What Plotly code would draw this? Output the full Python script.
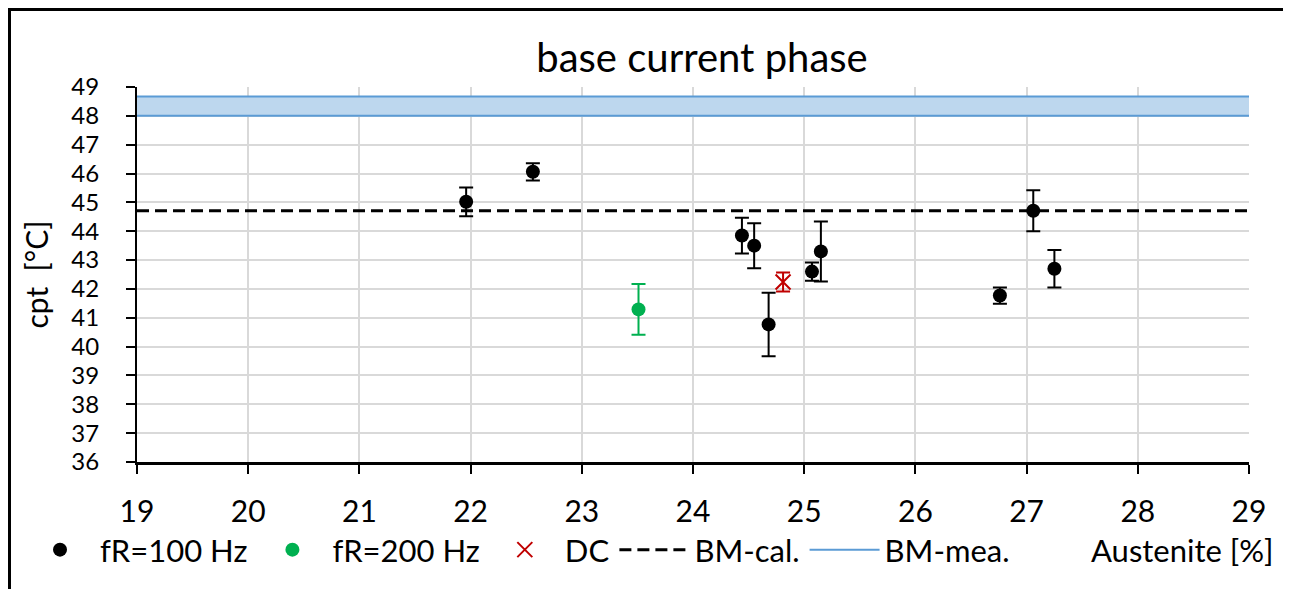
import plotly.graph_objects as go

# ---- data ----
x100 = [21.96, 22.56, 24.44, 24.55, 24.68, 25.07, 25.15, 26.76, 27.06, 27.25]
y100 = [45.02, 46.06, 43.85, 43.50, 40.77, 42.60, 43.30, 41.77, 44.71, 42.70]
e100 = [0.50, 0.30, 0.62, 0.78, 1.10, 0.32, 1.04, 0.28, 0.71, 0.65]

x200 = [23.51]
y200 = [41.29]
e200 = [0.88]

xdc = [24.81]
ydc = [42.24]
edc = [0.33]

x_ref = [19, 29]
bm_cal = [44.71, 44.71]
bm_mea_low = [48.0, 48.0]
bm_mea_high = [48.67, 48.67]

x_ticks = list(range(19, 30))
y_ticks = list(range(36, 50))

# page has an 8px body margin; figure coords = reference coords - 8
W, H = 1283, 581
PL, PR, PT, PB = 129, 1241, 79, 454
ML, MR, MT, MB = PL, W - PR, PT, H - PB
FONT = "Lato"
pw = PR - PL
ph = PB - PT


def px(x):
    return (x - PL) / pw


def py(y):
    return (PB - y) / ph


fig = go.Figure()

fig.add_trace(go.Scatter(
    x=x100, y=y100, mode="markers", name="fR=100 Hz",
    marker=dict(color="black", size=14),
    error_y=dict(type="data", array=e100, color="black", thickness=2, width=7)))
fig.add_trace(go.Scatter(
    x=x200, y=y200, mode="markers", name="fR=200 Hz",
    marker=dict(color="#00b050", size=14),
    error_y=dict(type="data", array=e200, color="#00b050", thickness=2, width=7)))
fig.add_trace(go.Scatter(
    x=xdc, y=ydc, mode="markers", name="DC",
    marker=dict(color="#c00000", size=15, symbol="x-thin", line=dict(color="#c00000", width=2)),
    error_y=dict(type="data", array=edc, color="#c00000", thickness=2, width=7)))
fig.add_trace(go.Scatter(
    x=x_ref, y=bm_cal, mode="lines", name="BM-cal.",
    line=dict(color="black", width=3, dash="12px,6px")))
fig.add_trace(go.Scatter(
    x=x_ref, y=bm_mea_low, mode="lines", name="BM-mea.",
    line=dict(color="#5b9bd5", width=2)))
fig.add_trace(go.Scatter(
    x=x_ref, y=bm_mea_high, mode="lines", name="BM-mea. upper",
    line=dict(color="#5b9bd5", width=2), fill="tonexty", fillcolor="#bdd7ee",
    showlegend=False))

fig.update_layout(
    width=W, height=H,
    margin=dict(l=ML, r=MR, t=MT, b=MB, autoexpand=False),
    paper_bgcolor="white", plot_bgcolor="white",
    font=dict(family=FONT, size=30, color="black"),
    title=dict(text="base current phase", x=694 / W, xanchor="center",
               y=1 - 50 / H, yanchor="middle", font=dict(size=40)),
    showlegend=True,
    legend=dict(orientation="h", traceorder="normal", x=px(12), xanchor="left",
                y=py(542), yanchor="middle",
                font=dict(size=31), itemwidth=70, tracegroupgap=0,
                bgcolor="rgba(0,0,0,0)"),
    xaxis=dict(range=[19, 29], tickvals=x_ticks, ticktext=[str(v) for v in x_ticks],
               showgrid=True, gridcolor="#d9d9d9", gridwidth=2,
               showline=True, linecolor="black", linewidth=3,
               ticks="outside", ticklen=9, tickwidth=2, tickcolor="black",
               ticklabelstandoff=12, zeroline=False, automargin=False,
               tickfont=dict(size=30)),
    yaxis=dict(range=[36, 49], tickvals=y_ticks, ticktext=[str(v) for v in y_ticks],
               showgrid=True, gridcolor="#d9d9d9", gridwidth=2,
               showline=True, linecolor="black", linewidth=2,
               ticks="outside", ticklen=9, tickwidth=2, tickcolor="black",
               ticklabelstandoff=22, zeroline=False, automargin=False,
               tickfont=dict(size=24),
               title=dict(text="cpt  [°C]", standoff=14, font=dict(size=30))),
    annotations=[dict(text="Austenite [%]", xref="paper", yref="paper",
                      x=px(1268), xanchor="right",
                      y=py(542), yanchor="middle",
                      showarrow=False, font=dict(size=31))],
    shapes=[dict(type="rect", xref="paper", yref="paper", layer="above",
                 x0=px(1.5), x1=px(1280), y0=py(H + 20), y1=py(1.5),
                 line=dict(color="black", width=3))],
)

fig.write_html("out.html")
